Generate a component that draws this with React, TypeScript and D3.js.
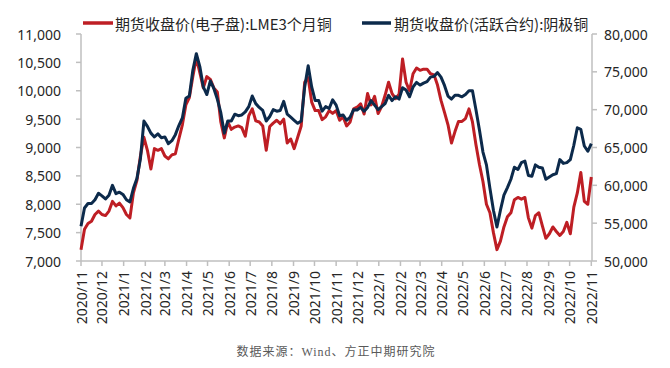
import { scaleLinear, scaleTime, line, timeDay, timeParse, format } from "d3"

// 5-day sampling grid starting here
const START_DATE = "2020-11-01"
const STEP_DAYS = 5

// 期货收盘价(电子盘):LME3个月铜 (left axis)
const lmeClose = [
  7200, 7560, 7660, 7700, 7820, 7880, 7820, 7800, 7880, 8050,
  7970, 8020, 7940, 7820, 7760, 8200, 8420, 8850, 9180, 8950,
  8620, 8980, 8950, 8980, 8850, 8800, 8870, 8890, 9150, 9400,
  9750, 9880, 10250, 10580, 10320, 10050, 10250, 10200, 10050, 9980,
  9450, 9170, 9450, 9320, 9360, 9380, 9350, 9200, 9560, 9680,
  9470, 9450, 9380, 8950, 9370, 9430, 9480, 9420, 9500, 9080,
  9150, 8980, 9180, 9380, 10150, 10230, 9800, 9650, 9650, 9490,
  9540, 9650, 9600, 9650, 9480, 9540, 9380, 9450, 9680, 9710,
  9770, 9590, 9950, 9750, 9900, 9600, 9720, 9920, 10150, 9950,
  9860, 9940, 10560, 10150, 10000, 10300, 10400, 10360, 10380, 10380,
  10300, 10280, 10100, 9830, 9620, 9400, 9080, 9280, 9460, 9460,
  9510, 9680, 9450, 9050, 8700, 8400, 8000, 7850, 7500, 7200,
  7350, 7600, 7780, 7850, 8080, 8120, 8090, 8120, 7760, 7580,
  7800, 7850, 7620, 7400, 7480, 7600, 7520, 7450, 7520, 7680,
  7480, 7950, 8200, 8560, 8050, 8000, 8480,
]

// 期货收盘价(活跃合约):阴极铜 (right axis)
const shfeClose = [
  54600, 57000, 57600, 57600, 58100, 58950, 58600, 58200, 58700, 60000,
  58900, 59100, 58800, 58100, 57800, 59600, 60900, 63500, 68500, 67800,
  66900, 66400, 66800, 66300, 66400, 65500, 65900, 66700, 67900, 68900,
  71500, 71800, 75200, 77400, 75700, 73000, 72000, 73800, 72800, 71400,
  69600, 66900, 68500, 68500, 69400, 69200, 69300, 69700, 70400, 71800,
  70800, 70300, 69900, 68500, 69100, 70000, 69800, 69900, 71100, 69400,
  69000, 68600, 68200, 68500, 73000, 75800, 73000, 71200, 71200, 69800,
  70400, 70150, 71300, 70600, 69200, 69300, 68600, 69000, 70000, 69950,
  70300, 69800, 70300, 71200, 70600, 70000, 70400, 70800, 71900, 71200,
  71700, 71400, 72900, 72600, 71700, 73000, 73600, 73250, 73500, 73700,
  74300, 74400, 74900, 74300, 73200, 71800, 71400, 71900, 71900, 71700,
  72000, 72500, 72500, 70000, 67300, 64400, 62700, 59600, 56700, 54500,
  56700, 58700, 59700, 60800, 62400, 62100, 63000, 63200, 61300, 61200,
  62700, 62400, 62300, 60800, 61100, 61400, 61550, 63400, 62900, 63000,
  63400, 65300, 67600, 67400, 65200, 64500, 65500,
]

const leftTicks = [7000, 7500, 8000, 8500, 9000, 9500, 10000, 10500, 11000]
const rightTicks = [50000, 55000, 60000, 65000, 70000, 75000, 80000]
const monthTicks = [
  "2020/11", "2020/12", "2021/1", "2021/2", "2021/3", "2021/4", "2021/5",
  "2021/6", "2021/7", "2021/8", "2021/9", "2021/10", "2021/11", "2021/12",
  "2022/1", "2022/2", "2022/3", "2022/4", "2022/5", "2022/6", "2022/7",
  "2022/8", "2022/9", "2022/10", "2022/11",
]

const LME_LABEL = "期货收盘价(电子盘):LME3个月铜"
const SHFE_LABEL = "期货收盘价(活跃合约):阴极铜"
const SOURCE = "数据来源：Wind、方正中期研究院"

const RED = "#BE1E24"
const NAVY = "#0C2A4B"
const AXIS = "#BFBFBF"
const TEXT = "#262626"

const W = 670
const H = 368
const M = { left: 81, right: 592, top: 34, bottom: 261 }

export default function App() {
  const parseDay = timeParse("%Y-%m-%d")
  const parseMonth = timeParse("%Y/%m")
  const start = parseDay(START_DATE)!
  const dates = lmeClose.map((_, i) => timeDay.offset(start, i * STEP_DAYS))

  const x = scaleTime()
    .domain([start, parseDay("2022-11-02")!])
    .range([M.left, M.right])
  const yL = scaleLinear().domain([7000, 11000]).range([M.bottom, M.top])
  const yR = scaleLinear().domain([50000, 80000]).range([M.bottom, M.top])

  const fmt = format(",")
  const lmePath = line<number>()
    .x((_, i) => x(dates[i]))
    .y((d) => yL(d))(lmeClose)!
  const shfePath = line<number>()
    .x((_, i) => x(dates[i]))
    .y((d) => yR(d))(shfeClose)!

  const numFont = "'Noto Sans', 'DejaVu Sans', sans-serif"
  const cjkFont = "'Noto Sans CJK SC', sans-serif"

  return (
    <svg
      width={W}
      height={H}
      style={{ position: "absolute", left: 0, top: 0, background: "#fff" }}
    >
      {/* legend */}
      <line x1={83} x2={113} y1={23} y2={23} stroke={RED} strokeWidth={3.5} />
      <text x={115} y={23} dominantBaseline="central" fontSize={15} fontFamily={cjkFont} fill={TEXT}>
        {LME_LABEL}
      </text>
      <line x1={362} x2={391} y1={23} y2={23} stroke={NAVY} strokeWidth={3.5} />
      <text x={394} y={23} dominantBaseline="central" fontSize={15} fontFamily={cjkFont} fill={TEXT}>
        {SHFE_LABEL}
      </text>

      {/* axes */}
      <g stroke={AXIS} strokeWidth={1.5}>
        <line x1={M.left} x2={M.left} y1={M.top} y2={M.bottom} />
        <line x1={M.right} x2={M.right} y1={M.top} y2={M.bottom} />
        <line x1={M.left} x2={M.right} y1={M.bottom} y2={M.bottom} />
        {leftTicks.map((t) => (
          <line key={t} x1={M.left - 5} x2={M.left} y1={yL(t)} y2={yL(t)} />
        ))}
        {rightTicks.map((t) => (
          <line key={t} x1={M.right} x2={M.right + 5} y1={yR(t)} y2={yR(t)} />
        ))}
        {monthTicks.map((m) => {
          const px = x(parseMonth(m)!)
          return <line key={m} x1={px} x2={px} y1={M.bottom} y2={M.bottom + 5} />
        })}
      </g>

      {leftTicks.map((t) => (
        <text key={t} x={61} y={yL(t)} textAnchor="end" dominantBaseline="central" fontSize={14} fontFamily={numFont} fill={TEXT}>
          {fmt(t)}
        </text>
      ))}
      {rightTicks.map((t) => (
        <text key={t} x={604} y={yR(t)} dominantBaseline="central" fontSize={14} fontFamily={numFont} fill={TEXT}>
          {fmt(t)}
        </text>
      ))}
      {monthTicks.map((m) => {
        const px = x(parseMonth(m)!)
        return (
          <text
            key={m}
            transform={`translate(${px},${M.bottom + 10}) rotate(-90)`}
            textAnchor="end"
            dominantBaseline="central"
            fontSize={14}
            fontFamily={numFont}
            fill={TEXT}
          >
            {m}
          </text>
        )
      })}

      {/* series */}
      <path d={lmePath} fill="none" stroke={RED} strokeWidth={3} strokeLinejoin="round" />
      <path d={shfePath} fill="none" stroke={NAVY} strokeWidth={3} strokeLinejoin="round" />

      <text
        x={336}
        y={352}
        textAnchor="middle"
        dominantBaseline="central"
        fontSize={12}
        letterSpacing={1}
        fontFamily="'Liberation Serif', 'DejaVu Serif', 'Noto Sans CJK SC', serif"
        fill="#595959"
      >
        {SOURCE}
      </text>
    </svg>
  )
}
